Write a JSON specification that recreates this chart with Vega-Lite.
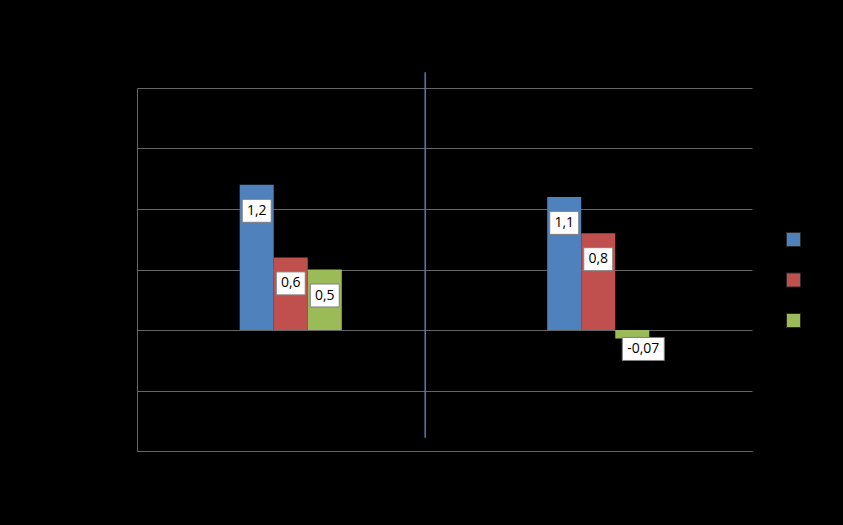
{
  "$schema": "https://vega.github.io/schema/vega-lite/v6.json",
  "width": 615,
  "height": 363,
  "autosize": "none",
  "padding": {"left": 137, "top": 88, "right": 91, "bottom": 74},
  "background": "black",
  "config": {
    "locale": {"number": {"decimal": ",", "thousands": ".", "grouping": [3], "currency": ["", " €"], "minus": "-"}},
    "view": {"stroke": null},
    "font": "Open Sans"
  },
  "layer": [
    {
      "data": {"values": [
        {"grupo": "Grupo 1", "serie": "Serie 1", "valor": 1.2},
        {"grupo": "Grupo 1", "serie": "Serie 2", "valor": 0.6},
        {"grupo": "Grupo 1", "serie": "Serie 3", "valor": 0.5},
        {"grupo": "Grupo 2", "serie": "Serie 1", "valor": 1.1},
        {"grupo": "Grupo 2", "serie": "Serie 2", "valor": 0.8},
        {"grupo": "Grupo 2", "serie": "Serie 3", "valor": -0.07}
      ]},
      "encoding": {
        "x": {"field": "grupo", "type": "nominal", "scale": {"paddingInner": 0.668, "paddingOuter": 0.334},
              "axis": {"title": null, "labelColor": "black", "domainColor": "#666666", "ticks": false, "labelAngle": 0}},
        "xOffset": {"field": "serie", "type": "nominal"},
        "y": {"field": "valor", "type": "quantitative", "scale": {"domain": [-1, 2], "nice": false, "zero": false},
              "axis": {"title": null, "values": [-1, -0.5, 0, 0.5, 1, 1.5, 2], "gridColor": "#666666", "domainColor": "#666666", "ticks": false, "labelColor": "black"}}
      },
      "layer": [
        {
          "mark": {"type": "bar"},
          "encoding": {
            "color": {"field": "serie", "type": "nominal",
                      "scale": {"range": ["#4F81BD", "#C0504D", "#9BBB59"]},
                      "legend": {"title": null, "orient": "none", "legendX": 649, "legendY": 144, "symbolType": "square", "symbolSize": 196, "symbolStrokeColor": "#2a2a2a", "symbolStrokeWidth": 1, "rowPadding": 21.5, "labelColor": "black", "labelFontSize": 9, "labelOffset": 3, "labelLimit": 36}}
          }
        },
        {
          "transform": [{"filter": "datum.valor > 0"}],
          "mark": {"type": "point", "shape": "M-1,1H1V2.586H-1Z", "size": 841, "filled": true, "fill": "white", "stroke": "#7f7f7f", "strokeWidth": 1, "opacity": 1}
        },
        {
          "transform": [{"filter": "datum.valor < 0"}],
          "mark": {"type": "point", "shape": "M-0.476,-0.048H1.524V1.048H-0.476Z", "size": 1764, "filled": true, "fill": "white", "stroke": "#7f7f7f", "strokeWidth": 1, "opacity": 1}
        },
        {
          "transform": [{"filter": "datum.valor > 0"}],
          "mark": {"type": "text", "dy": 26, "baseline": "middle", "align": "center", "fontSize": 14, "color": "black"},
          "encoding": {"text": {"field": "valor", "type": "quantitative", "format": ".2~f"}}
        },
        {
          "transform": [{"filter": "datum.valor < 0"}],
          "mark": {"type": "text", "dy": 10.5, "dx": 11, "baseline": "middle", "align": "center", "fontSize": 14, "color": "black"},
          "encoding": {"text": {"field": "valor", "type": "quantitative", "format": ".2~f"}}
        }
      ]
    },
    {
      "data": {"values": [{"grupo": "Grupo 1"}]},
      "mark": {"type": "rule", "color": "#4A7EBB", "strokeWidth": 1.5},
      "encoding": {
        "x": {"field": "grupo", "type": "nominal", "bandPosition": 1.817},
        "y": {"datum": 2.13, "type": "quantitative"},
        "y2": {"datum": -0.89}
      }
    }
  ]
}
